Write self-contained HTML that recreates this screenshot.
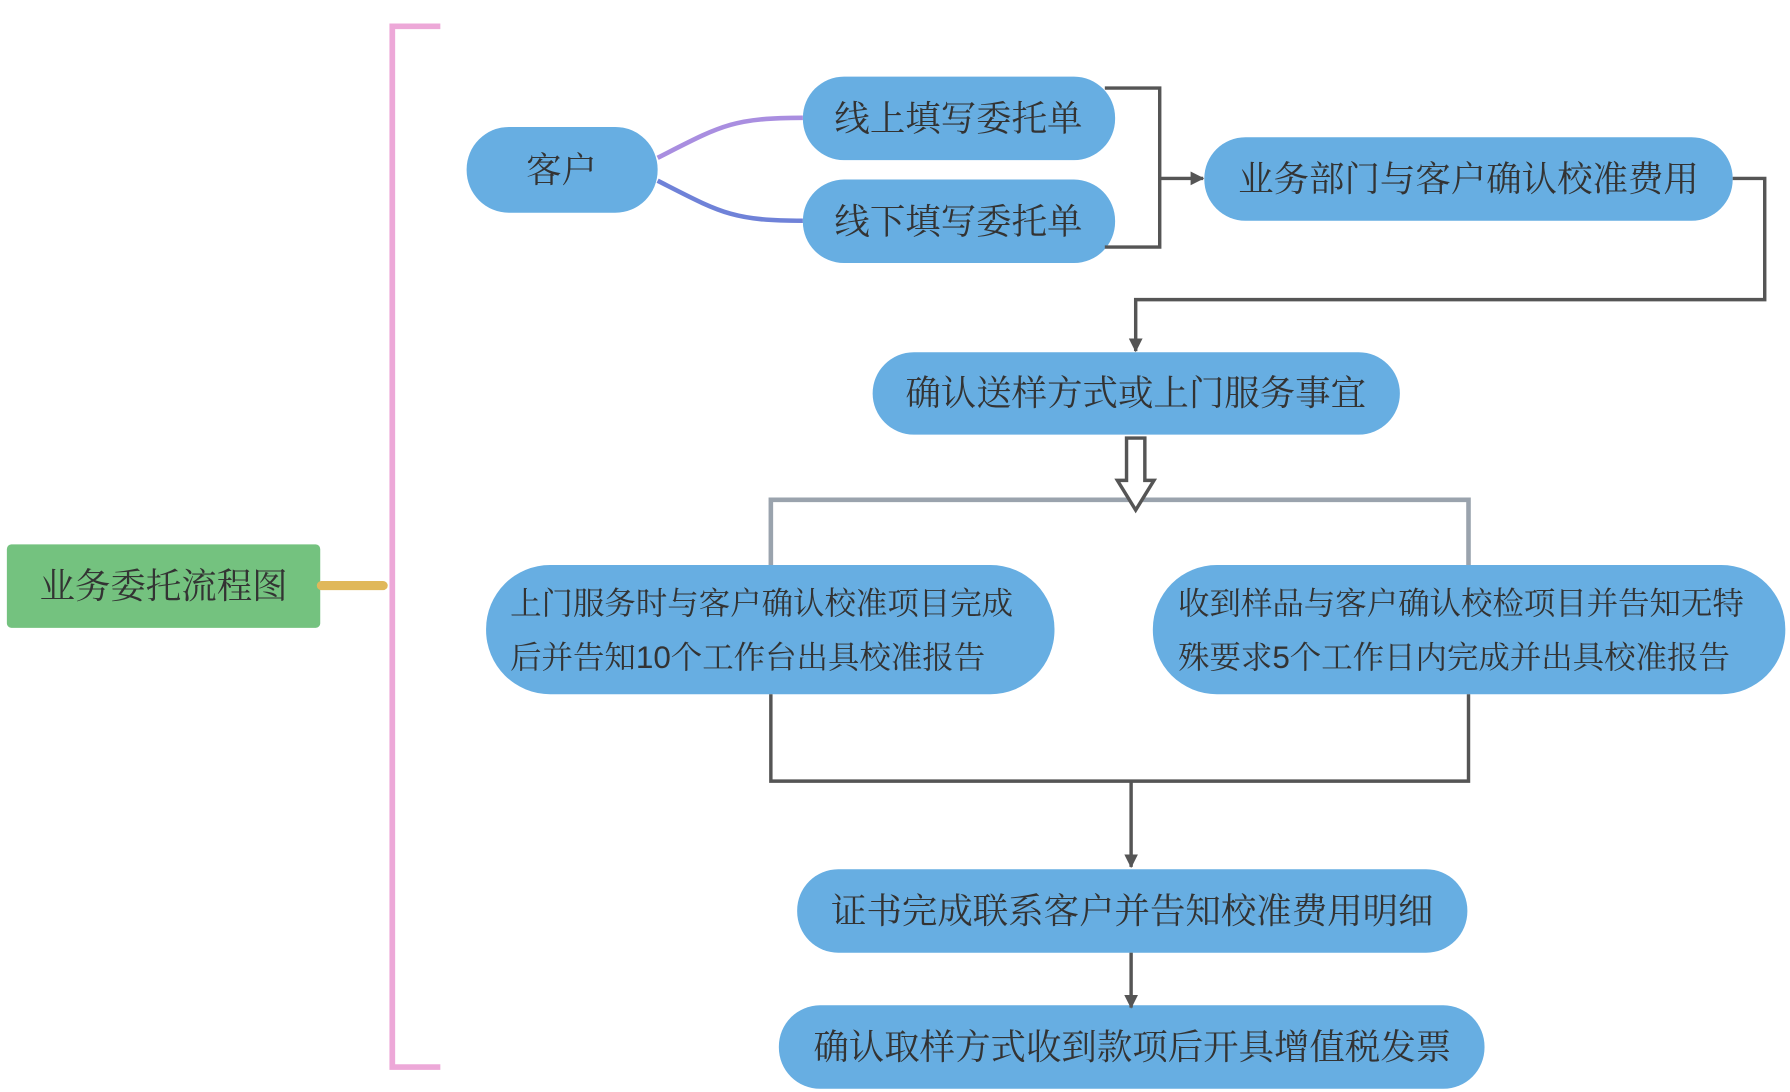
<!DOCTYPE html>
<html><head><meta charset="utf-8"><style>
html,body{margin:0;padding:0;background:#fff;width:1790px;height:1092px;overflow:hidden}
text{font-family:"Liberation Sans","Noto Serif CJK SC",serif;fill:#333}
</style></head><body>
<svg width="1790" height="1092" viewBox="0 0 1565.1 954.8" xmlns="http://www.w3.org/2000/svg">
<defs>
<marker id="ah" markerWidth="14" markerHeight="14" refX="11" refY="6" orient="auto" markerUnits="userSpaceOnUse">
<path d="M0,0 L12,6 L0,12 Z" fill="#555"/></marker>
</defs>
<path d="M385,23 L343,23 L343,933 L385,933" fill="none" stroke="#eda8d8" stroke-width="5"/>
<rect x="6" y="476" width="274" height="73" rx="4" fill="#74c27f"/>
<text x="143" y="523" font-size="31" text-anchor="middle">业务委托流程图</text>
<line x1="281" y1="512" x2="335" y2="512" stroke="#e0b85a" stroke-width="8" stroke-linecap="round"/>
<path d="M575,138 C630,110 640,103 702,103" fill="none" stroke="#a98ee0" stroke-width="4"/>
<path d="M575,158 C630,186 640,193 702,193" fill="none" stroke="#6f82d8" stroke-width="4"/>
<g fill="#67aee2">
<rect x="408" y="111" width="167" height="75" rx="37"/>
<rect x="702" y="67" width="273" height="73" rx="36"/>
<rect x="702" y="157" width="273" height="73" rx="36"/>
<rect x="1053" y="120" width="462" height="73" rx="36"/>
<rect x="763" y="308" width="461" height="72" rx="36"/>
<rect x="425" y="494" width="497" height="113" rx="56"/>
<rect x="1008" y="494" width="553" height="113" rx="56"/>
<rect x="697" y="760" width="586" height="73" rx="36"/>
<rect x="681" y="879" width="617" height="73" rx="36"/>
</g>
<g fill="none" stroke="#555" stroke-width="3">
<path d="M966,77 L1014,77 L1014,216 L966,216"/>
<line x1="1014" y1="156" x2="1052" y2="156" marker-end="url(#ah)"/>
<path d="M1515,156 L1543,156 L1543,262 L993,262 L993,307" marker-end="url(#ah)"/>
<path d="M674,607 L674,683 L1284,683 L1284,607"/>
<line x1="989" y1="683" x2="989" y2="758" marker-end="url(#ah)"/>
<line x1="989" y1="833" x2="989" y2="881" marker-end="url(#ah)"/>
</g>
<path d="M674,494 L674,437 L1284,437 L1284,494" fill="none" stroke="#9aa3ad" stroke-width="4"/>
<path d="M985,383 L1001,383 L1001,420 L1009,420 L993,446 L977,420 L985,420 Z" fill="#fff" stroke="#555" stroke-width="3"/>
<g font-size="31" text-anchor="middle">
<text x="491" y="159">客户</text>
<text x="838" y="114">线上填写委托单</text>
<text x="838" y="204">线下填写委托单</text>
<text x="1284" y="167">业务部门与客户确认校准费用</text>
<text x="993" y="354">确认送样方式或上门服务事宜</text>
<text x="990" y="807">证书完成联系客户并告知校准费用明细</text>
<text x="990" y="926">确认取样方式收到款项后开具增值税发票</text>
</g>
<g font-size="27.5">
<text x="446" y="537">上门服务时与客户确认校准项目完成</text>
<text x="446" y="584">后并告知10个工作台出具校准报告</text>
<text x="1030" y="537">收到样品与客户确认校检项目并告知无特</text>
<text x="1030" y="584">殊要求5个工作日内完成并出具校准报告</text>
</g>
</svg>
</body></html>
